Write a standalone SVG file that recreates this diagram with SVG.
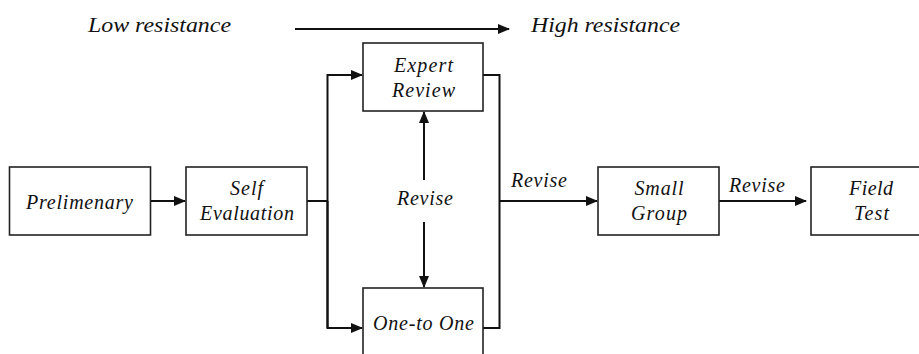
<svg xmlns="http://www.w3.org/2000/svg" width="919" height="354" viewBox="0 0 919 354">
<style>
.box{fill:#fff;stroke:#222;stroke-width:1.6}
.ln{fill:none;stroke:#111;stroke-width:2}
</style>
<defs>
<marker id="ah" markerWidth="12" markerHeight="10" refX="11" refY="5" orient="auto" markerUnits="userSpaceOnUse">
<path d="M0,0 L12,5 L0,10 Z" fill="#111"/>
</marker>
</defs>
<g id="header">
<text font-family="Liberation Serif" font-style="italic" font-size="22" fill="#111" text-anchor="middle" x="159.5" y="32" textLength="143" lengthAdjust="spacingAndGlyphs">Low resistance</text>
<text font-family="Liberation Serif" font-style="italic" font-size="22" fill="#111" text-anchor="middle" x="605.5" y="32" textLength="149" lengthAdjust="spacingAndGlyphs">High resistance</text>
</g>
<g id="connectors">
<line class="ln" x1="295" y1="29" x2="509" y2="29" marker-end="url(#ah)"/>
<line class="ln" x1="150" y1="201" x2="185" y2="201" marker-end="url(#ah)"/>
<polyline class="ln" points="307,201 327.5,201"/>
<polyline class="ln" points="327.5,328 327.5,75 362,75" marker-end="url(#ah)"/>
<polyline class="ln" points="327.5,201 327.5,328 362,328" marker-end="url(#ah)"/>
<polyline class="ln" points="464,75 499.5,75 499.5,328 468,328"/>
<line class="ln" x1="499.5" y1="201" x2="597" y2="201" marker-end="url(#ah)"/>
<line class="ln" x1="719" y1="201" x2="806" y2="201" marker-end="url(#ah)"/>
<line class="ln" x1="424" y1="180" x2="424" y2="112" marker-end="url(#ah)"/>
<line class="ln" x1="424" y1="222" x2="424" y2="287" marker-end="url(#ah)"/>
<text font-family="Liberation Serif" font-style="italic" font-size="20" fill="#111" text-anchor="middle" x="425" y="205" textLength="56">Revise</text>
<text font-family="Liberation Serif" font-style="italic" font-size="20" fill="#111" text-anchor="middle" x="539" y="187" textLength="56">Revise</text>
<text font-family="Liberation Serif" font-style="italic" font-size="20" fill="#111" text-anchor="middle" x="757" y="192" textLength="56">Revise</text>
</g>
<g id="preliminary">
<rect class="box" x="9.5" y="167" width="141" height="68"/>
<text font-family="Liberation Serif" font-style="italic" font-size="20" fill="#111" text-anchor="middle" x="79.5" y="209" textLength="107">Prelimenary</text>
</g>
<g id="self-evaluation">
<rect class="box" x="186" y="167" width="121" height="68"/>
<text font-family="Liberation Serif" font-style="italic" font-size="20" fill="#111" text-anchor="middle" x="246.5" y="195" textLength="33">Self</text>
<text font-family="Liberation Serif" font-style="italic" font-size="20" fill="#111" text-anchor="middle" x="247" y="220" textLength="94">Evaluation</text>
</g>
<g id="expert-review">
<rect class="box" x="363" y="43" width="120" height="68"/>
<text font-family="Liberation Serif" font-style="italic" font-size="20" fill="#111" text-anchor="middle" x="423.5" y="72" textLength="59">Expert</text>
<text font-family="Liberation Serif" font-style="italic" font-size="20" fill="#111" text-anchor="middle" x="423.5" y="97" textLength="63">Review</text>
</g>
<g id="one-to-one">
<rect class="box" x="363" y="288" width="120" height="80"/>
<text font-family="Liberation Serif" font-style="italic" font-size="20" fill="#111" text-anchor="middle" x="423.5" y="330" textLength="101">One-to One</text>
</g>
<g id="small-group">
<rect class="box" x="598" y="167" width="121" height="68"/>
<text font-family="Liberation Serif" font-style="italic" font-size="20" fill="#111" text-anchor="middle" x="659" y="195" textLength="49">Small</text>
<text font-family="Liberation Serif" font-style="italic" font-size="20" fill="#111" text-anchor="middle" x="659" y="220" textLength="56">Group</text>
</g>
<g id="field-test">
<rect class="box" x="811" y="167" width="121" height="68"/>
<text font-family="Liberation Serif" font-style="italic" font-size="20" fill="#111" text-anchor="middle" x="871" y="195" textLength="44">Field</text>
<text font-family="Liberation Serif" font-style="italic" font-size="20" fill="#111" text-anchor="middle" x="871.5" y="220" textLength="35">Test</text>
</g>
</svg>
